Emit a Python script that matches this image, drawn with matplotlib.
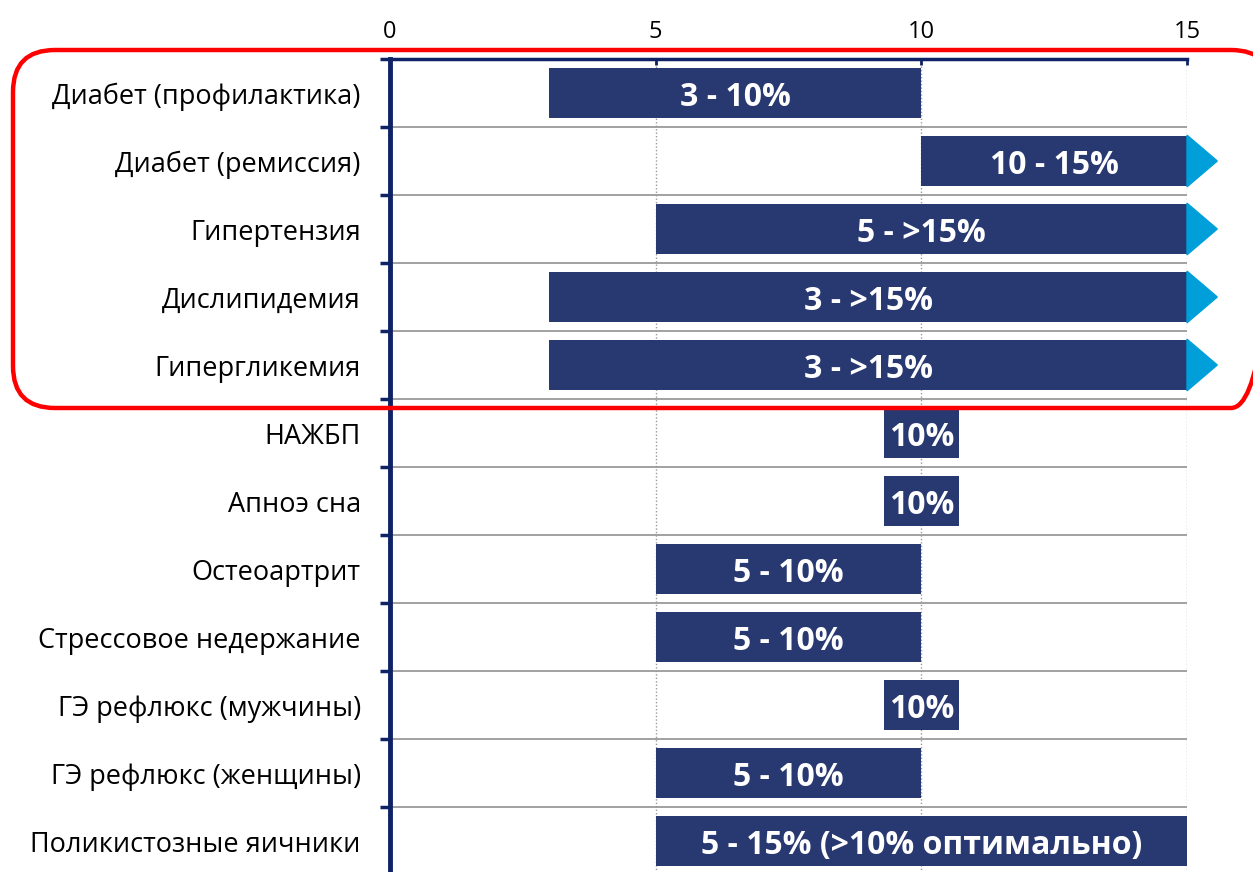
import matplotlib
matplotlib.use('Agg')
import matplotlib.pyplot as plt
from matplotlib.patches import FancyBboxPatch, Polygon

plt.rcParams['font.family'] = ['Open Sans', 'DejaVu Sans']

categories = ['Диабет (профилактика)', 'Диабет (ремиссия)', 'Гипертензия', 'Дислипидемия',
              'Гипергликемия', 'НАЖБП', 'Апноэ сна', 'Остеоартрит', 'Стрессовое недержание',
              'ГЭ рефлюкс (мужчины)', 'ГЭ рефлюкс (женщины)', 'Поликистозные яичники']
starts = [3, 10, 5, 3, 3, 9.3, 9.3, 5, 5, 9.3, 5, 5]
ends = [10, 15, 15, 15, 15, 10.7, 10.7, 10, 10, 10.7, 10, 15]
labels = ['3 - 10%', '10 - 15%', '5 - >15%', '3 - >15%', '3 - >15%', '10%', '10%',
          '5 - 10%', '5 - 10%', '10%', '5 - 10%', '5 - 15% (>10% оптимально)']
open_ended = [False, True, True, True, True, False, False, False, False, False, False, False]
xticks = [0, 5, 10, 15]

bar_color = '#283870'
navy = '#0F2266'
arrow_color = '#009FDA'

fig = plt.figure(figsize=(12.53, 8.72), dpi=100)
ax = fig.add_axes([390 / 1253, -3 / 872, (1187 - 390) / 1253, (875 - 59) / 872])

y = list(range(len(categories)))
widths = [e - s for s, e in zip(starts, ends)]
ax.barh(y, widths, left=starts, height=0.73, color=bar_color, zorder=3)

for i in y:
    ax.text((starts[i] + ends[i]) / 2, i + 0.07, labels[i], color='white', fontsize=23,
            fontweight='bold', ha='center', va='center', zorder=4)
    if open_ended[i]:
        tri = Polygon([(ends[i], i - 0.38), (ends[i], i + 0.38), (ends[i] + 0.57, i)],
                      closed=True, color=arrow_color, zorder=4, clip_on=False)
        ax.add_patch(tri)

ax.set_xlim(0, 15)
ax.set_ylim(len(categories) - 0.5, -0.5)

# gridlines
for b in range(len(categories) - 1):
    ax.axhline(b + 0.5, color='#9a9a9a', lw=1.3, zorder=1)
for xv in [5, 10, 15]:
    ax.axvline(xv, color='#9a9a9a', lw=1.0, ls=(0, (1, 1.5)), zorder=1)

ax.xaxis.tick_top()
ax.set_xticks(xticks)
ax.set_xticklabels([str(t) for t in xticks], fontsize=17)
ax.tick_params(axis='x', length=4, width=2, color=navy, pad=11, direction='in')

ax.set_yticks(y)
ax.set_yticklabels(categories, fontsize=19.5)
ax.set_yticks([b - 0.5 for b in range(len(categories) + 1)], minor=True)
ax.tick_params(axis='y', which='major', length=0, pad=21)
ax.tick_params(axis='y', which='minor', length=7, width=2.5, color=navy, direction='out')

for s in ['right', 'bottom']:
    ax.spines[s].set_visible(False)
ax.spines['left'].set_color(navy)
ax.spines['left'].set_linewidth(3.5)
ax.spines['top'].set_color(navy)
ax.spines['top'].set_linewidth(2.5)

# red highlight box, drawn in pixel coords
over = fig.add_axes([0, 0, 1, 1], zorder=10)
over.set_xlim(0, 1253)
over.set_ylim(872, 0)
over.axis('off')
over.patch.set_alpha(0)
box = FancyBboxPatch((13, 50), 1260, 358, boxstyle='round,pad=0,rounding_size=42',
                     fill=False, edgecolor='#FF0000', lw=3.2)
over.add_patch(box)

fig.savefig('out.png', dpi=100)
